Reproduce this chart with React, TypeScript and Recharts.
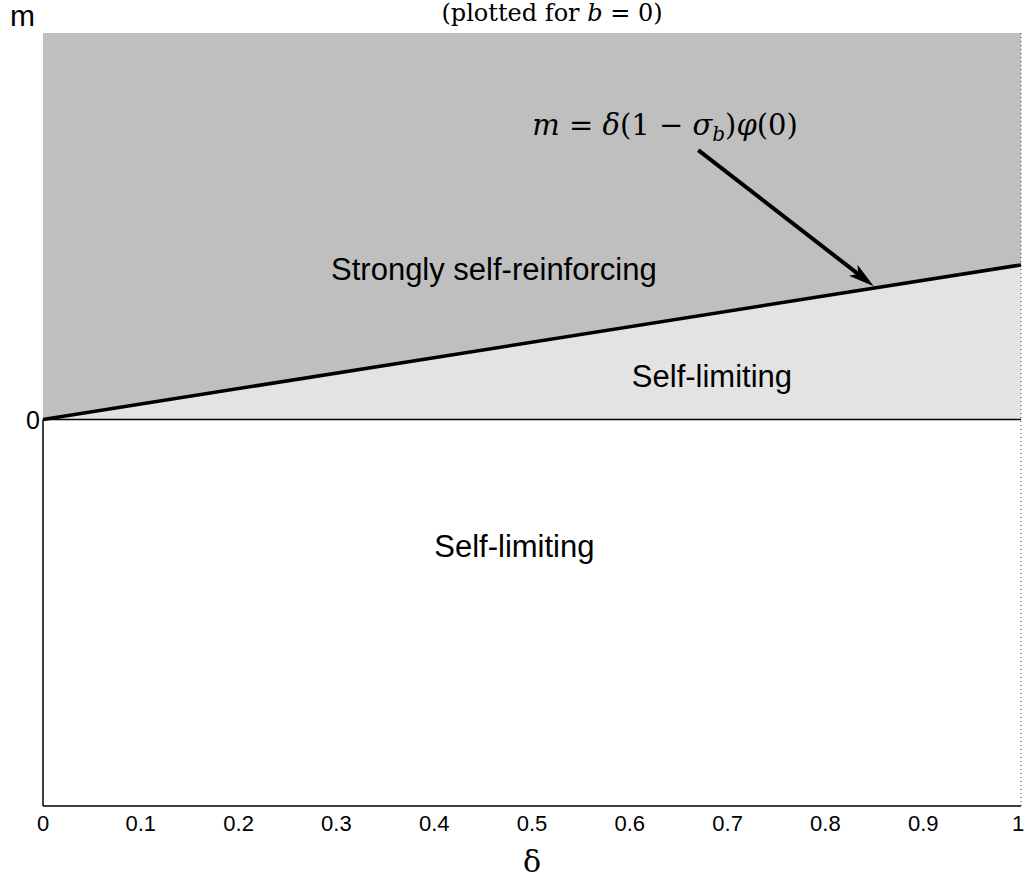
import React from 'react';
import {
  ComposedChart, Area, Line, XAxis, YAxis, ReferenceLine, ReferenceDot,
} from 'recharts';

// boundary m = δ(1-σb)φ(0), plotted for b = 0
const deltas = [0, 1];
const boundary = [0, 0.4];
const mTop = [1, 1];
const xTicks = [0, 0.1, 0.2, 0.3, 0.4, 0.5, 0.6, 0.7, 0.8, 0.9, 1];
const yTicks = [0];

const regionLabels = [
  { d: 0.461, m: 0.388, text: 'Strongly self-reinforcing' },
  { d: 0.684, m: 0.109, text: 'Self-limiting' },
  { d: 0.482, m: -0.329, text: 'Self-limiting' },
];

const arrowFrom = { x: 0.67, y: 0.697 };
const arrowTo = { x: 0.8495, y: 0.345 };
const formulaAt = { d: 0.636, m: 0.763 };

const data = deltas.map((d, i) => ({
  delta: d,
  boundary: boundary[i],
  low: [0, boundary[i]],
  high: [boundary[i], mTop[i]],
}));

const sans = '"Liberation Sans", Arial, sans-serif';
const serif = '"DejaVu Serif", "Liberation Serif", serif';

const XTick = (p: any) => {
  const v = p.payload.value;
  const last = v === 1;
  return (
    <text
      x={last ? p.x - 3 : p.x}
      y={p.y + 13}
      textAnchor="middle"
      fontFamily={sans}
      fontSize={22}
      fill="#000"
    >
      {String(v)}
    </text>
  );
};

const YTick = (p: any) => (
  <text x={p.x + 5} y={p.y + 9} textAnchor="end" fontFamily={sans} fontSize={25} fill="#000">
    {String(p.payload.value)}
  </text>
);

const Arrow = (p: any) => {
  const { x1, y1, x2, y2 } = p;
  const ang = Math.atan2(y2 - y1, x2 - x1);
  const len = 26;
  const w = 7;
  const bx = x2 - len * Math.cos(ang);
  const by = y2 - len * Math.sin(ang);
  const nx = -Math.sin(ang);
  const ny = Math.cos(ang);
  return (
    <g>
      <line x1={x1} y1={y1} x2={bx + 6 * Math.cos(ang)} y2={by + 6 * Math.sin(ang)} stroke="#000" strokeWidth={4} />
      <polygon
        points={`${x2},${y2} ${bx + nx * w},${by + ny * w} ${bx + 6 * Math.cos(ang)},${by + 6 * Math.sin(ang)} ${bx - nx * w},${by - ny * w}`}
        fill="#000"
      />
    </g>
  );
};

const Formula = (p: any) => (
  <text x={p.cx} y={p.cy + 10} textAnchor="middle" fontFamily={serif} fontSize={29} fill="#000">
    <tspan fontStyle="italic">m</tspan>
    <tspan> = </tspan>
    <tspan fontStyle="italic">δ</tspan>
    <tspan>(1 − </tspan>
    <tspan fontStyle="italic">σ</tspan>
    <tspan fontStyle="italic" fontSize={20} dy={6}>b</tspan>
    <tspan dy={-6}>)</tspan>
    <tspan fontStyle="italic">φ</tspan>
    <tspan>(0)</tspan>
  </text>
);

export default function App() {
  return (
    <div style={{ position: 'absolute', left: 0, top: 0, width: 1024, height: 878, background: '#fff' }}>
      <div style={{ position: 'absolute', left: 10, top: -1, fontFamily: sans, fontSize: 30, lineHeight: '34px' }}>m</div>
      <div style={{ position: 'absolute', left: 0, width: 1104, top: 0, textAlign: 'center', fontFamily: serif, fontSize: 24, lineHeight: '26px' }}>
        (plotted for <i>b</i> = 0)
      </div>
      <ComposedChart width={1024} height={878} data={data} margin={{ top: 33, right: 3, bottom: 0, left: 0 }}>
        <XAxis
          dataKey="delta"
          type="number"
          domain={[0, 1]}
          ticks={xTicks}
          tickLine={false}
          tickSize={10}
          interval={0}
          height={72}
          axisLine={{ stroke: '#000', strokeWidth: 1.5 }}
          tick={<XTick />}
          label={{ value: 'δ', position: 'insideBottom', offset: 6, fill: '#000', fontSize: 30, fontFamily: serif }}
        />
        <YAxis
          type="number"
          domain={[-1, 1]}
          ticks={yTicks}
          width={43}
          tickLine={false}
          axisLine={false}
          tickMargin={2}
          tick={<YTick />}
        />
        <Area dataKey="low" stroke="none" fill="#e3e3e3" fillOpacity={1} isAnimationActive={false} />
        <Area dataKey="high" stroke="none" fill="#bfbfbf" fillOpacity={1} isAnimationActive={false} />
        <ReferenceLine y={0} stroke="#000" strokeWidth={1.5} />
        <ReferenceLine segment={[{ x: 0, y: -1 }, { x: 0, y: 0 }]} stroke="#000" strokeWidth={1.5} />
        <ReferenceLine x={1} stroke="#444" strokeDasharray="1 3" />
        <Line dataKey="boundary" stroke="#000" strokeWidth={3.5} dot={false} isAnimationActive={false} />
        {regionLabels.map((r, i) => (
          <ReferenceDot
            key={i}
            x={r.d}
            y={r.m}
            r={0}
            shape={(p: any) => (
              <text x={p.cx} y={p.cy + 10} textAnchor="middle" fontFamily={sans} fontSize={31} fill="#000">
                {r.text}
              </text>
            )}
          />
        ))}
        <ReferenceDot x={formulaAt.d} y={formulaAt.m} r={0} shape={Formula} />
        <ReferenceLine segment={[arrowFrom, arrowTo]} shape={Arrow} />
      </ComposedChart>
    </div>
  );
}
